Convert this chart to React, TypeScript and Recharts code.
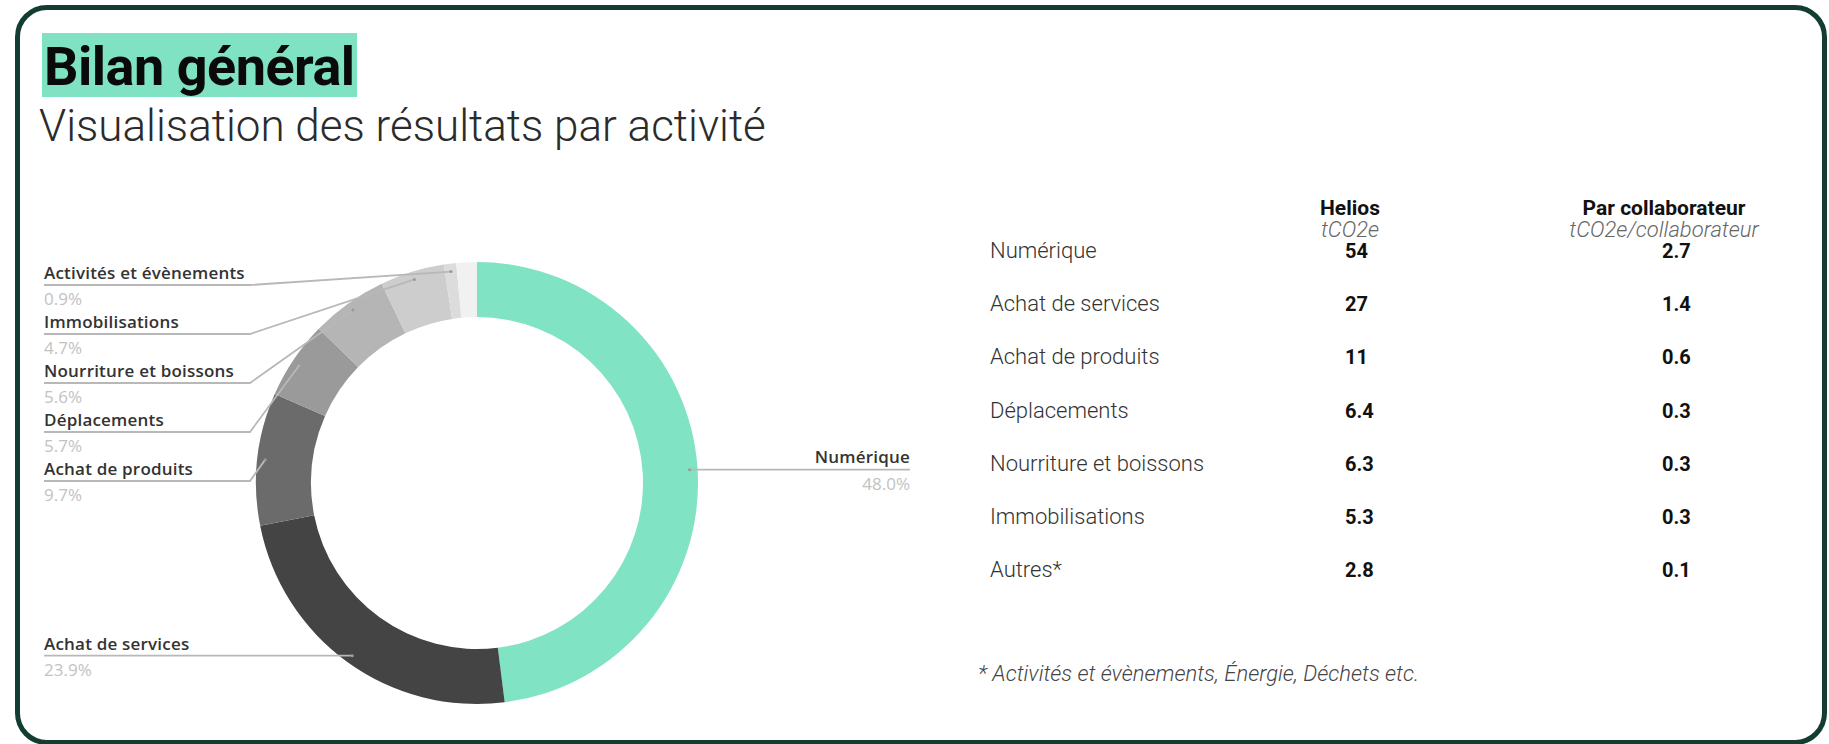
import React from "react";
import { PieChart, Pie, Cell } from "recharts";

// donut slices (share of total, %)
const categories = [
  "Numérique",
  "Achat de services",
  "Achat de produits",
  "Déplacements",
  "Nourriture et boissons",
  "Immobilisations",
  "Activités et évènements",
  "Autres",
];
const shares = [48.0, 23.9, 9.7, 5.7, 5.6, 4.7, 0.9, 1.5];
const sliceColors = [
  "#80e3c3",
  "#444444",
  "#6b6b6b",
  "#9a9a9a",
  "#b5b5b5",
  "#cdcdcd",
  "#dcdcdc",
  "#f1f1f1",
];
const labelledCount = 7; // last slice has no callout

// table on the right
const tableRows = [
  "Numérique",
  "Achat de services",
  "Achat de produits",
  "Déplacements",
  "Nourriture et boissons",
  "Immobilisations",
  "Autres*",
];
const heliosValues = ["54", "27", "11", "6.4", "6.3", "5.3", "2.8"];
const perCollabValues = ["2.7", "1.4", "0.6", "0.3", "0.3", "0.3", "0.1"];

const pieData = categories.map((name, i) => ({ name, value: shares[i] }));

const RAD = Math.PI / 180;
const LEFT_X = 44;
const ELBOW_X = 250;
const RIGHT_X = 910;
const SLOT_TOP = 285;
const SLOT_GAP = 49;
const lineColor = "#b8b8b8";

const nameStyle = { fontFamily: "Open Sans", fontWeight: 600, fontSize: 17, letterSpacing: 0.2, fill: "#333" };
const pctStyle = { fontFamily: "Open Sans", fontSize: 17, fill: "#c2c2c2" };

const renderLabel = (props: any) => {
  const { cx, cy, midAngle, outerRadius, index } = props;
  if (index >= labelledCount) return null;
  const r = outerRadius - 8;
  const ax = cx + r * Math.cos(-midAngle * RAD);
  const ay = cy + r * Math.sin(-midAngle * RAD);
  const pct = shares[index].toFixed(1) + "%";
  const name = categories[index];

  if (ax > cx) {
    return (
      <g>
        <polyline points={`${ax},${ay} ${RIGHT_X},${ay}`} fill="none" stroke={lineColor} strokeWidth={1.8} />
        <circle cx={ax} cy={ay} r={1.5} fill="#999" />
        <text x={RIGHT_X} y={ay - 7} textAnchor="end" style={nameStyle}>
          {name}
        </text>
        <text x={RIGHT_X} y={ay + 20} textAnchor="end" style={pctStyle}>
          {pct}
        </text>
      </g>
    );
  }

  // stack the left callouts from the top, never above their own anchor
  const slot = labelledCount - 1 - index;
  const lineY = Math.max(ay, SLOT_TOP + slot * SLOT_GAP);
  return (
    <g>
      <polyline
        points={`${LEFT_X},${lineY} ${ELBOW_X},${lineY} ${ax},${ay}`}
        fill="none"
        stroke={lineColor}
        strokeWidth={1.8}
      />
      <circle cx={ax} cy={ay} r={1.5} fill="#999" />
      <text x={LEFT_X} y={lineY - 6} style={nameStyle}>
        {name}
      </text>
      <text x={LEFT_X} y={lineY + 20} style={pctStyle}>
        {pct}
      </text>
    </g>
  );
};

const rowTop = 251;
const rowGap = 53.2;
const col1X = 1345;
const col2X = 1662;

export default function App() {
  return (
    <div
      style={{
        position: "absolute",
        left: 0,
        top: 0,
        width: 1829,
        height: 744,
        background: "#fff",
        overflow: "hidden",
        fontFamily: "Roboto, sans-serif",
      }}
    >
      {/* card frame */}
      <div
        style={{
          position: "absolute",
          left: 15,
          top: 5,
          width: 1812,
          height: 740,
          boxSizing: "border-box",
          border: "5px solid #133d33",
          borderRadius: 32,
        }}
      />

      {/* title */}
      <div style={{ position: "absolute", left: 42, top: 33, width: 315, height: 64, background: "#7fe3c3" }} />
      <div
        style={{
          position: "absolute",
          left: 44,
          top: 40,
          fontSize: 54,
          lineHeight: 1,
          fontWeight: 700,
          color: "#0a0a0a",
          letterSpacing: -0.5,
          whiteSpace: "nowrap",
        }}
      >
        Bilan général
      </div>
      <div
        style={{
          position: "absolute",
          left: 39,
          top: 104,
          fontSize: 44,
          lineHeight: 1,
          fontWeight: 300,
          color: "#2b2b2b",
          whiteSpace: "nowrap",
        }}
      >
        Visualisation des résultats par activité
      </div>

      {/* donut */}
      <PieChart width={1829} height={744} margin={{ top: 0, right: 0, bottom: 0, left: 0 }} style={{ position: "absolute", left: 0, top: 0 }}>
        <Pie
          data={pieData}
          dataKey="value"
          nameKey="name"
          cx={477}
          cy={483}
          innerRadius={166}
          outerRadius={221}
          startAngle={90}
          endAngle={-270}
          stroke="none"
          label={renderLabel}
          labelLine={false}
          isAnimationActive={false}
        >
          {pieData.map((d, i) => (
            <Cell key={d.name} fill={sliceColors[i]} />
          ))}
        </Pie>
      </PieChart>

      {/* table headers */}
      {[
        { title: "Helios", unit: "tCO2e", x: 1350 },
        { title: "Par collaborateur", unit: "tCO2e/collaborateur", x: 1664 },
      ].map((h) => (
        <React.Fragment key={h.title}>
          <div
            style={{
              position: "absolute",
              left: h.x,
              top: 208,
              transform: "translate(-50%, -50%)",
              fontSize: 21,
              lineHeight: 0.9,
              fontWeight: 700,
              color: "#111",
              whiteSpace: "nowrap",
            }}
          >
            {h.title}
          </div>
          <div
            style={{
              position: "absolute",
              left: h.x,
              top: 230,
              transform: "translate(-50%, -50%)",
              fontSize: 22,
              lineHeight: 0.9,
              fontWeight: 300,
              fontStyle: "italic",
              color: "#666",
              whiteSpace: "nowrap",
            }}
          >
            {h.unit}
          </div>
        </React.Fragment>
      ))}

      {/* table rows */}
      {tableRows.map((row, i) => {
        const y = rowTop + i * rowGap;
        return (
          <React.Fragment key={row}>
            <div
              style={{
                position: "absolute",
                left: 990,
                top: y,
                transform: "translateY(-50%)",
                fontSize: 22,
                lineHeight: 0.9,
                fontWeight: 300,
                color: "#333",
                whiteSpace: "nowrap",
              }}
            >
              {row}
            </div>
            <div
              style={{
                position: "absolute",
                left: col1X,
                top: y,
                transform: "translateY(-50%)",
                fontSize: 20,
                lineHeight: 0.9,
                fontWeight: 700,
                color: "#111",
              }}
            >
              {heliosValues[i]}
            </div>
            <div
              style={{
                position: "absolute",
                left: col2X,
                top: y,
                transform: "translateY(-50%)",
                fontSize: 20,
                lineHeight: 0.9,
                fontWeight: 700,
                color: "#111",
              }}
            >
              {perCollabValues[i]}
            </div>
          </React.Fragment>
        );
      })}

      {/* footnote */}
      <div
        style={{
          position: "absolute",
          left: 978,
          top: 674,
          transform: "translateY(-50%)",
          fontSize: 22,
          lineHeight: 1,
          fontWeight: 300,
          fontStyle: "italic",
          color: "#444",
          whiteSpace: "nowrap",
        }}
      >
        * Activités et évènements, Énergie, Déchets etc.
      </div>
    </div>
  );
}
